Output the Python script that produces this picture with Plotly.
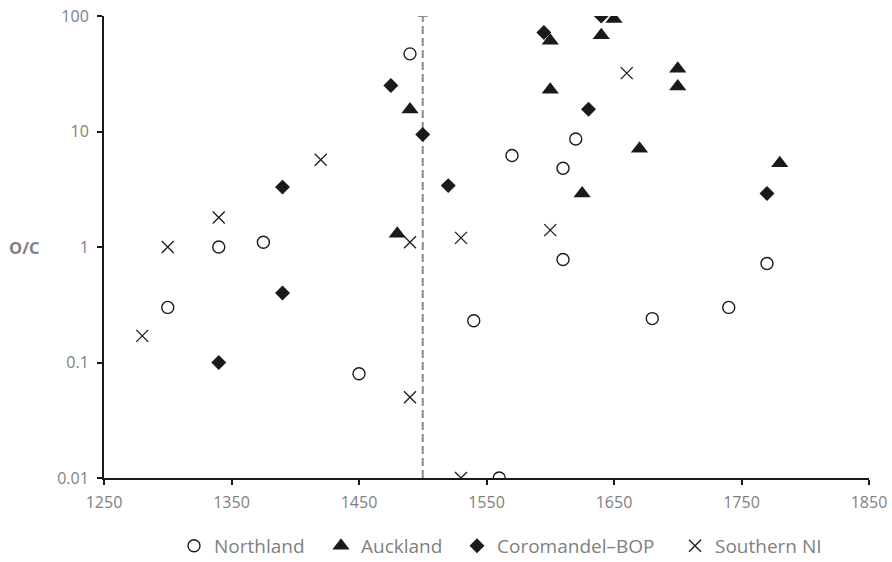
import plotly.graph_objects as go

# ---- data ----
north_x = [1300, 1340, 1375, 1450, 1490, 1540, 1560, 1570, 1610, 1610, 1620, 1680, 1740, 1770]
north_y = [0.3, 1.0, 1.1, 0.08, 47, 0.23, 0.01, 6.2, 4.8, 0.78, 8.6, 0.24, 0.3, 0.72]

auck_x = [1480, 1490, 1600, 1600, 1625, 1640, 1650, 1670, 1700, 1700, 1780]
auck_y = [1.3, 15.5, 61, 23, 2.9, 68, 94, 7.1, 35, 24.5, 5.3]

coro_x = [1340, 1390, 1390, 1475, 1500, 1520, 1595, 1630, 1640, 1770]
coro_y = [0.1, 3.3, 0.4, 25, 9.4, 3.4, 72, 15.6, 100, 2.9]

south_x = [1280, 1300, 1340, 1420, 1490, 1490, 1530, 1530, 1600, 1660]
south_y = [0.17, 1.0, 1.8, 5.7, 1.1, 0.05, 1.2, 0.01, 1.4, 32]

cutoff_year = 1500
y_ticks = [0.01, 0.1, 1, 10, 100]
y_tick_labels = ["0.01", "0.1", "1", "10", "100"]
x_ticks = [1250, 1350, 1450, 1550, 1650, 1750, 1850]

INK = "#1a1a1a"
GREY = "#7f7f7f"
FONT = "Open Sans"

fig = go.Figure()

# dashed reference line
fig.add_trace(go.Scatter(
    x=[cutoff_year, cutoff_year], y=[y_ticks[0], y_ticks[-1]],
    mode="lines", line=dict(color="#8c8c8c", width=2, dash="8px,4px"),
    showlegend=False, hoverinfo="skip"))
fig.add_trace(go.Scatter(
    x=[cutoff_year], y=[y_ticks[-1]], mode="markers",
    marker=dict(symbol="line-ew", size=7, line=dict(color="#8c8c8c", width=2)),
    showlegend=False, hoverinfo="skip"))

fig.add_trace(go.Scatter(
    x=north_x, y=north_y, mode="markers", name="Northland", legend="legend",
    marker=dict(symbol="circle-open", size=12, color=INK, line=dict(color=INK, width=1.4))))
fig.add_trace(go.Scatter(
    x=auck_x, y=auck_y, mode="markers", name="Auckland", legend="legend2",
    marker=dict(symbol="triangle-up", size=15, color=INK, line=dict(width=0))))
fig.add_trace(go.Scatter(
    x=coro_x, y=coro_y, mode="markers", name="Coromandel\u2013BOP", legend="legend3",
    marker=dict(symbol="diamond", size=11.5, color=INK, line=dict(width=0))))
fig.add_trace(go.Scatter(
    x=south_x, y=south_y, mode="markers", name="Southern NI", legend="legend4",
    marker=dict(symbol="x-thin", size=12, color=INK, line=dict(color=INK, width=1.3))))

PLOT_L, PLOT_W = 104, 765
def leg(symbol_px):
    return dict(orientation="h", x=(symbol_px - 20 - PLOT_L) / PLOT_W, xanchor="left",
                y=-0.147, yanchor="middle", bgcolor="rgba(0,0,0,0)",
                font=dict(size=19, color=GREY, family=FONT), itemwidth=30)

fig.update_layout(
    width=892, height=562,
    margin=dict(l=104, r=23, t=16, b=84, autoexpand=False),
    paper_bgcolor="white", plot_bgcolor="white",
    font=dict(family=FONT, color=GREY, size=14),
    showlegend=True,
    legend=leg(194), legend2=leg(341), legend3=leg(477), legend4=leg(695),
    xaxis=dict(range=[1250, 1850], tickvals=x_ticks, showgrid=False, zeroline=False,
               showline=True, linecolor=INK, linewidth=2,
               ticks="outside", ticklen=5, tickwidth=2, tickcolor=INK,
               ticklabelstandoff=4,
               tickfont=dict(size=16, color=GREY)),
    yaxis=dict(type="log", range=[-2, 2], tickvals=y_ticks, ticktext=y_tick_labels,
               showgrid=False, zeroline=False,
               showline=True, linecolor=INK, linewidth=2,
               ticks="outside", ticklen=5, tickwidth=2, tickcolor=INK,
               ticklabelstandoff=5,
               tickfont=dict(size=16, color=GREY)),
    annotations=[dict(text="<b>O/C</b>", xref="paper", yref="y", x=(7 - PLOT_L) / PLOT_W, y=0,
                      xanchor="left", yanchor="middle", showarrow=False,
                      font=dict(size=16.5, color=GREY, family=FONT))],
)

fig.write_html("out.html")
